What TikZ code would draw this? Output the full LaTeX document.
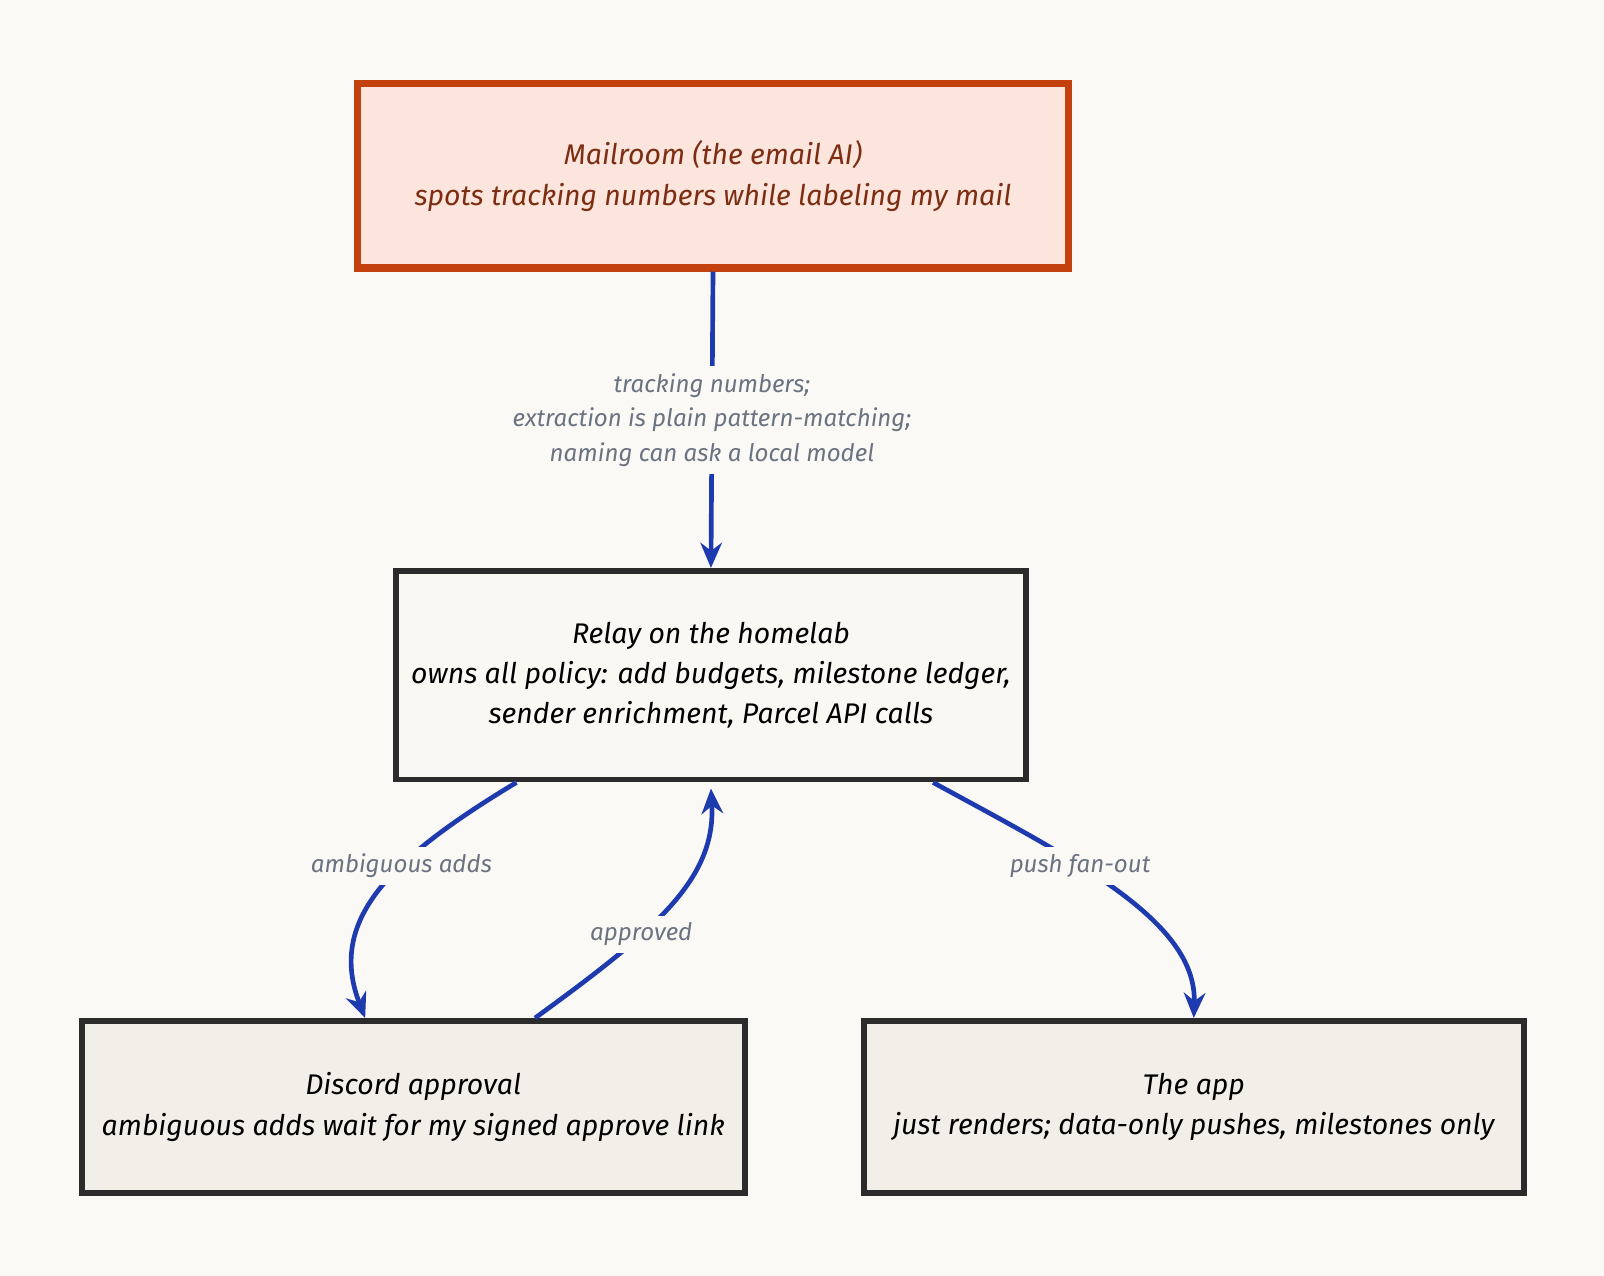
\documentclass[tikz,border=0pt]{standalone}
\usepackage{fontspec}
\setmainfont{Fira Sans}
\usetikzlibrary{arrows.meta,positioning}
\definecolor{paper}{HTML}{FAF9F5}
\definecolor{mailfill}{HTML}{FCE5DC}
\definecolor{mailline}{HTML}{C2410C}
\definecolor{mailtext}{HTML}{7C2D12}
\definecolor{relayfill}{HTML}{FAF8F2}
\definecolor{leaffill}{HTML}{F1EFE8}
\definecolor{boxline}{HTML}{2B2B2B}
\definecolor{flow}{HTML}{1E3AAF}
\definecolor{note}{HTML}{6B7280}
\tikzset{
  box/.style={draw=boxline, line width=1.6pt, rectangle, align=center, inner sep=0pt,
    font=\itshape\fontsize{7.9}{11.2}\selectfont, text=black},
  flow line/.style={draw=flow, line width=1.3pt, -{Stealth[length=7pt,width=6pt]}},
  tag/.style={fill=paper, text=note, align=center, inner sep=2pt,
    font=\itshape\fontsize{6.7}{9.6}\selectfont}
}
\begin{document}
\begin{tikzpicture}[x=0.01cm,y=-0.01cm]
	\fill[paper] (0,0) rectangle (1568,1247);
	\useasboundingbox (0,0) rectangle (1568,1247);
	
	\node[box, draw=mailline, fill=mailfill, text=mailtext, line width=2pt,
	  minimum width=6.95cm, minimum height=1.8cm] (mail) at (697,172)
	  {Mailroom (the email AI)\\spots tracking numbers while labeling my mail};
	\node[box, fill=relayfill, minimum width=6.15cm, minimum height=2.04cm] (relay) at (695,660)
	  {Relay on the homelab\\owns all policy: add budgets, milestone ledger,\\sender enrichment, Parcel API calls};
	\node[box, fill=leaffill, minimum width=6.48cm, minimum height=1.68cm] (discord) at (404,1082)
	  {Discord approval\\ambiguous adds wait for my signed approve link};
	\node[box, fill=leaffill, minimum width=6.45cm, minimum height=1.68cm] (app) at (1167,1082)
	  {The app\\just renders; data-only pushes, milestones only};
	
	\path[flow line] (mail.south) -- (relay.north)
	  node[tag, midway] {tracking numbers;\\extraction is plain pattern-matching;\\naming can ask a local model};
	\path[flow line] ([xshift=-1.9cm]relay.south) .. controls (380,840) and (320,900) .. ([xshift=-0.47cm]discord.north)
	  node[tag, pos=0.38] {ambiguous adds};
	\path[flow line] ([xshift=1.19cm]discord.north) .. controls (640,910) and (700,860) .. ([yshift=-0.06cm]relay.south)
	  node[tag, pos=0.36] {approved};
	\path[flow line] ([xshift=2.17cm]relay.south) .. controls (1050,840) and (1170,900) .. (app.north)
	  node[tag, pos=0.38] {push fan-out};
\end{tikzpicture}
\end{document}
